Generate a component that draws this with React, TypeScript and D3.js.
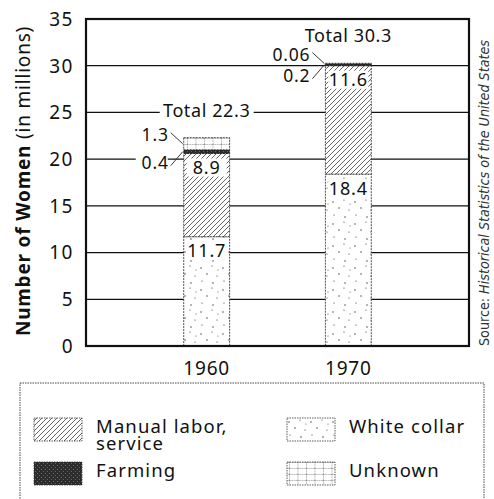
import * as d3 from 'd3'

// values (millions of women)
const years = ['1960', '1970']
const whiteCollar = [11.7, 18.4]
const manualLabor = [8.9, 11.6]
const farming = [0.4, 0.2]
const unknown = [1.3, 0.06]
const totals = [22.3, 30.3]
const yTicks = [0, 5, 10, 15, 20, 25, 30, 35]

const legendItems = [
  { key: 'manual', lines: ['Manual labor,', 'service'] },
  { key: 'white', lines: ['White collar'] },
  { key: 'farming', lines: ['Farming'] },
  { key: 'unknown', lines: ['Unknown'] }
]

const keys = ['white', 'manual', 'farming', 'unknown']
const fills: Record<string, string> = {
  white: 'url(#dots)',
  manual: 'url(#hatch)',
  farming: 'url(#dark)',
  unknown: 'url(#grid)'
}

const W = 494
const H = 499
const font = "'Noto Sans', 'Open Sans', sans-serif"

export default function App() {
  const left = 86
  const right = 469
  const y = d3.scaleLinear().domain([0, 35]).range([346, 19])
  const x = d3.scaleBand<string>().domain(years).range([left, right])
    .paddingInner(0.676).paddingOuter(0.69)
  const bw = x.bandwidth()

  const rows = years.map((year, i) => ({
    year,
    white: whiteCollar[i],
    manual: manualLabor[i],
    farming: farming[i],
    unknown: unknown[i]
  }))
  const series = d3.stack<any>().keys(keys)(rows)
  const byKey: Record<string, d3.Series<any, string>> = {}
  series.forEach(s => { byKey[s.key] = s })

  return (
    <svg width={W} height={H} style={{ position: 'absolute', left: 0, top: 0, background: '#fff' }}>
      <defs>
        <pattern id="hatch" patternUnits="userSpaceOnUse" width={5} height={5}>
          <rect width={5} height={5} fill="#fff" />
          <path d="M0,5 L5,0 M-1,1 L1,-1 M4,6 L6,4" stroke="#222" strokeWidth={0.7} />
        </pattern>
        <pattern id="dots" patternUnits="userSpaceOnUse" width={22} height={22}>
          <rect width={22} height={22} fill="#fff" />
          <circle cx={3} cy={4} r={0.7} fill="#333" />
          <circle cx={14} cy={2} r={0.6} fill="#333" />
          <circle cx={9} cy={10} r={0.7} fill="#333" />
          <circle cx={19} cy={12} r={0.6} fill="#333" />
          <circle cx={4} cy={17} r={0.6} fill="#333" />
          <circle cx={15} cy={19} r={0.7} fill="#333" />
          <circle cx={20} cy={6} r={0.5} fill="#333" />
        </pattern>
        <pattern id="dark" patternUnits="userSpaceOnUse" width={4} height={4}>
          <rect width={4} height={4} fill="#2b2b2b" />
          <rect x={1} y={1} width={1} height={1} fill="#777" />
          <rect x={3} y={3} width={1} height={1} fill="#666" />
        </pattern>
        <pattern id="grid" patternUnits="userSpaceOnUse" width={8.5} height={6}>
          <rect width={8.5} height={6} fill="#fff" />
          <path d="M0,0 V6 M0,0 H8.5" stroke="#444" strokeWidth={0.8} strokeDasharray="1.5,0.8" />
        </pattern>
      </defs>

      {/* gridlines */}
      {yTicks.filter(t => t > 0 && t < 35).map(t => (
        <line key={t} x1={left} x2={right} y1={y(t)} y2={y(t)} stroke="#111" strokeWidth={1.2} />
      ))}

      {/* tick labels */}
      {yTicks.map(t => (
        <text key={t} x={74} y={y(t)} dy="0.36em" textAnchor="end" fontFamily={font} fontSize={19}
          letterSpacing={1.5} fill="#111">{t}</text>
      ))}

      {/* bars */}
      {series.map(s => s.map((d, i) => (
        <rect key={s.key + i} x={x(years[i])} y={y(d[1])} width={bw} height={y(d[0]) - y(d[1])}
          fill={fills[s.key]} stroke="#222" strokeWidth={0.8} strokeDasharray="2,1" />
      )))}

      {/* inside labels */}
      {['white', 'manual'].map(k => byKey[k].map((d, i) => {
        const cx = (x(years[i]) as number) + bw / 2
        const cy = y(d[1]) + 14
        return (
          <g key={k + i}>
            <rect x={cx - 20} y={cy - 9} width={40} height={18} fill="#fff" />
            <text x={cx} y={cy} dy="0.36em" textAnchor="middle" fontFamily={font} fontSize={18}
              letterSpacing={0.8} fill="#111">{d.data[k]}</text>
          </g>
        )
      }))}

      {/* side labels with leaders */}
      {['unknown', 'farming'].map(k => byKey[k].map((d, i) => {
        const bx = x(years[i]) as number
        const mid = (y(d[0]) + y(d[1])) / 2
        const ly = k === 'unknown' ? mid - 9 : mid + 11
        return (
          <g key={k + i}>
            <rect x={bx - 48} y={ly - 8} width={32} height={16} fill="#fff" />
            <text x={bx - 15} y={ly} dy="0.36em" textAnchor="end" fontFamily={font} fontSize={17.5}
              letterSpacing={0.8} fill="#111">{d.data[k]}</text>
            <line x1={bx - 13} y1={ly + (k === 'unknown' ? -2 : 3)} x2={bx - 1} y2={mid} stroke="#222" strokeWidth={0.9} />
          </g>
        )
      }))}

      {/* totals */}
      {totals.map((t, i) => {
        const cx = (x(years[i]) as number) + bw / 2
        const cy = y(t) - 27
        return (
          <g key={'t' + i}>
            <rect x={cx - 47} y={cy - 9} width={94} height={18} fill="#fff" />
            <text x={cx} y={cy} dy="0.36em" textAnchor="middle" fontFamily={font} fontSize={18}
              letterSpacing={0.6} fill="#111">{`Total ${t}`}</text>
          </g>
        )
      })}

      {/* frame */}
      <rect x={left} y={y(35)} width={right - left} height={y(0) - y(35)} fill="none" stroke="#111" strokeWidth={2.2} />

      {/* category labels */}
      {years.map(yr => (
        <text key={yr} x={(x(yr) as number) + bw / 2} y={375} textAnchor="middle" fontFamily={font} fontSize={19}
          letterSpacing={0.8} fill="#111">{yr}</text>
      ))}

      {/* y axis title */}
      <text transform="translate(30,181) rotate(-90)" textAnchor="middle" fontFamily={font} fontSize={19}
        letterSpacing={0.8} fill="#111">
        <tspan fontWeight="bold">Number of Women</tspan>
        <tspan> (in millions)</tspan>
      </text>

      {/* source */}
      <text transform="translate(489,346) rotate(-90)" fontFamily="'DejaVu Sans Condensed', 'Liberation Sans Narrow', sans-serif"
        fontSize={13.5} fill="#333" textLength={306} lengthAdjust="spacingAndGlyphs">
        <tspan>Source: </tspan>
        <tspan fontStyle="italic">Historical Statistics of the United States</tspan>
      </text>

      {/* legend */}
      <rect x={20} y={383} width={464} height={130} fill="none" stroke="#333" strokeWidth={0.9} strokeDasharray="1.5,1" />
      {legendItems.map((it, i) => {
        const col = i % 2
        const row = Math.floor(i / 2)
        const sx = col === 0 ? 34 : 287
        const sy = row === 0 ? 418 : 462
        return (
          <g key={it.key}>
            <rect x={sx} y={sy} width={48} height={23} fill={fills[it.key]} stroke="#333" strokeWidth={0.8} strokeDasharray="1.5,1" />
            <text x={sx + 62} y={sy + 15} fontFamily={font} fontSize={18.5} letterSpacing={1.1} fill="#111">
              {it.lines.map((l, j) => (
                <tspan key={j} x={sx + 62} dy={j === 0 ? 0 : 17}>{l}</tspan>
              ))}
            </text>
          </g>
        )
      })}
    </svg>
  )
}
